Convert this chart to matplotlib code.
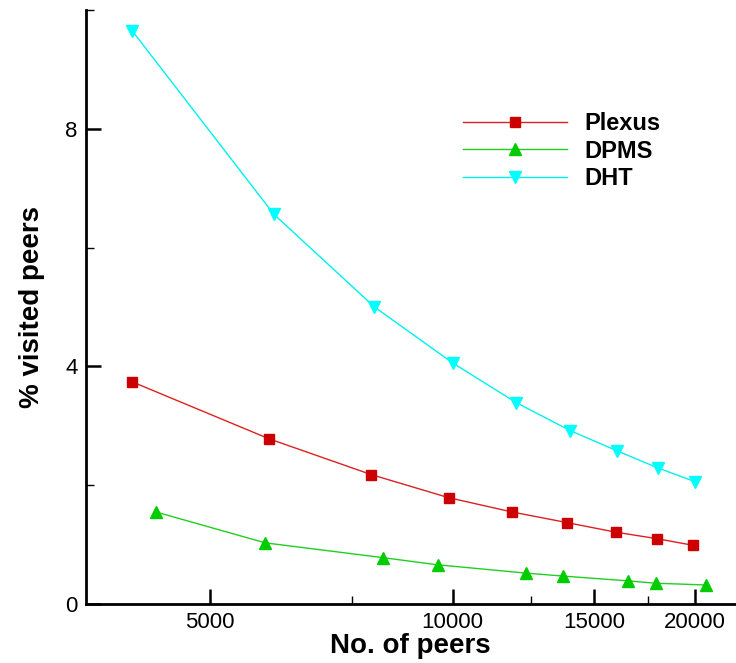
import matplotlib
matplotlib.use("Agg")
import matplotlib.pyplot as plt
from matplotlib.ticker import FixedLocator, NullFormatter, FixedFormatter

plt.rcParams['font.family'] = ['Liberation Sans', 'DejaVu Sans']

# Data
plexus_x = [4000, 5920, 7920, 9890, 11850, 13880, 15940, 17940, 19870]
plexus_y = [3.74, 2.78, 2.18, 1.79, 1.55, 1.37, 1.21, 1.10, 0.99]

dpms_x = [4280, 5850, 8200, 9580, 12340, 13720, 16500, 17880, 20650]
dpms_y = [1.55, 1.03, 0.78, 0.66, 0.52, 0.47, 0.39, 0.35, 0.32]

dht_x = [4000, 6000, 8000, 10000, 12000, 14000, 16000, 18000, 20000]
dht_y = [9.65, 6.56, 5.00, 4.06, 3.39, 2.92, 2.58, 2.29, 2.06]

x_major = [5000, 10000, 15000, 20000]
x_major_labels = ['5000', '10000', '15000', '20000']
x_minor = [7500, 12500, 17500]
y_major = [0, 4, 8]
y_major_labels = ['0', '4', '8']
y_minor = [2, 6, 10]

fig = plt.figure(figsize=(7.36, 6.63), dpi=100)
ax = fig.add_axes([86/736, 59/663, 650/736, 594/663])

ax.plot(plexus_x, plexus_y, color='#dd2020', lw=1.0, marker='s', ms=7.5,
        mfc='#cc0000', mec='#cc0000', label='Plexus')
ax.plot(dpms_x, dpms_y, color='#20d020', lw=1.0, marker='^', ms=8,
        mfc='#00cc00', mec='#00cc00', label='DPMS')
ax.plot(dht_x, dht_y, color='#00f0f0', lw=1.0, marker='v', ms=8,
        mfc='#00ffff', mec='#00ffff', label='DHT')

ax.set_xscale('log')
ax.set_xlim(3505, 22500)
ax.set_ylim(0, 10)

ax.xaxis.set_major_locator(FixedLocator(x_major))
ax.xaxis.set_major_formatter(FixedFormatter(x_major_labels))
ax.xaxis.set_minor_locator(FixedLocator(x_minor))
ax.xaxis.set_minor_formatter(NullFormatter())
ax.yaxis.set_major_locator(FixedLocator(y_major))
ax.yaxis.set_major_formatter(FixedFormatter(y_major_labels))
ax.yaxis.set_minor_locator(FixedLocator(y_minor))

for s in ['top', 'right']:
    ax.spines[s].set_visible(False)
for s in ['left', 'bottom']:
    ax.spines[s].set_linewidth(2.0)

ax.tick_params(which='major', direction='in', length=11, width=1.8,
               labelsize=16, pad=6)
ax.tick_params(which='minor', direction='in', length=6, width=1.0)
ax.tick_params(top=False, right=False, which='both')

ax.set_xlabel('No. of peers', fontsize=20, fontweight='bold', va='top')
ax.set_ylabel('% visited peers', fontsize=20, fontweight='bold')
ax.xaxis.set_label_coords(0.4985, -0.049)
ax.yaxis.set_label_coords(-0.063, 0.5)

leg = ax.legend(loc='upper left', bbox_to_anchor=(463/736, 1 - 112/663),
                bbox_transform=fig.transFigure, frameon=False,
                handlelength=4.4, handletextpad=0.75, labelspacing=0.2,
                borderpad=0, borderaxespad=0, numpoints=1,
                prop={'weight': 'bold', 'size': 17})

fig.savefig('out.png', dpi=100)
